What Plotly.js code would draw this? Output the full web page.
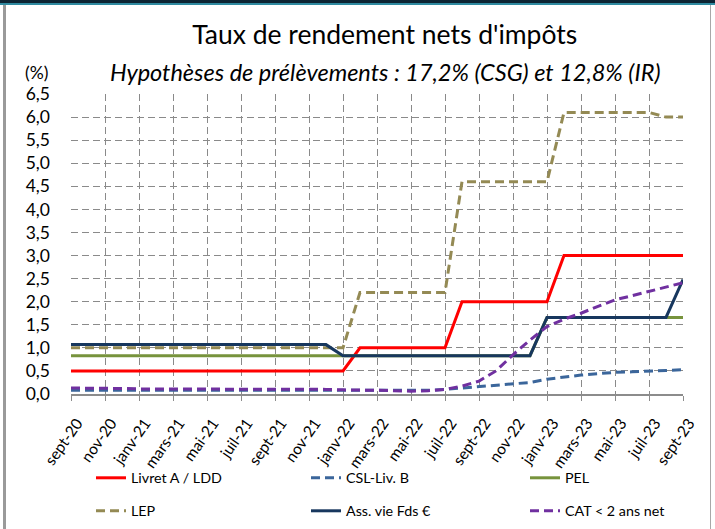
<!DOCTYPE html>
<html>
<head>
<meta charset="utf-8">
<script src="https://cdn.plot.ly/plotly-3.0.1.min.js"></script>
<style>
  html, body { margin: 0; padding: 0; background: #ffffff; }
  #wrap { position: relative; width: 715px; height: 529px; overflow: hidden; }
  #chart { width: 715px; height: 529px; }
  .bar { position: absolute; pointer-events: none; }
</style>
</head>
<body>
<div id="wrap">
  <div id="chart"></div>
  <div class="bar" style="left:0;top:0;width:715px;height:3px;background:#0d2433;"></div>
  <div class="bar" style="left:0;top:3px;width:715px;height:2px;background:#2f8aa0;"></div>
  <div class="bar" style="left:3px;top:5px;width:3px;height:524px;background:#9a9a9a;"></div>
  <div class="bar" style="left:710px;top:5px;width:1px;height:524px;background:#a8a8a8;"></div>
</div>
<script>
// Months, sept-20 to sept-23
const months = ["sept-20","oct-20","nov-20","déc-20",
  "janv-21","févr-21","mars-21","avr-21","mai-21","juin-21","juil-21","août-21","sept-21","oct-21","nov-21","déc-21",
  "janv-22","févr-22","mars-22","avr-22","mai-22","juin-22","juil-22","août-22","sept-22","oct-22","nov-22","déc-22",
  "janv-23","févr-23","mars-23","avr-23","mai-23","juin-23","juil-23","août-23","sept-23"];

const livretA = [0.5,0.5,0.5,0.5, 0.5,0.5,0.5,0.5,0.5,0.5,0.5,0.5,0.5,0.5,0.5,0.5,
  0.5,1.0,1.0,1.0,1.0,1.0,1.0,2.0,2.0,2.0,2.0,2.0,
  2.0,3.0,3.0,3.0,3.0,3.0,3.0,3.0,3.0];
const cslLivB = [0.08,0.08,0.08,0.08, 0.08,0.08,0.08,0.08,0.08,0.08,0.08,0.08,0.08,0.08,0.08,0.08,
  0.08,0.08,0.08,0.08,0.08,0.08,0.10,0.13,0.17,0.20,0.23,0.25,
  0.32,0.37,0.41,0.44,0.47,0.48,0.49,0.51,0.53];
const pel = [0.83,0.83,0.83,0.83, 0.83,0.83,0.83,0.83,0.83,0.83,0.83,0.83,0.83,0.83,0.83,0.83,
  0.83,0.83,0.83,0.83,0.83,0.83,0.83,0.83,0.83,0.83,0.83,0.83,
  1.66,1.66,1.66,1.66,1.66,1.66,1.66,1.66,1.66];
const lep = [1.0,1.0,1.0,1.0, 1.0,1.0,1.0,1.0,1.0,1.0,1.0,1.0,1.0,1.0,1.0,1.0,
  1.0,2.2,2.2,2.2,2.2,2.2,2.2,4.6,4.6,4.6,4.6,4.6,
  4.6,6.1,6.1,6.1,6.1,6.1,6.1,6.0,6.0];
const assVie = [1.07,1.07,1.07,1.07, 1.07,1.07,1.07,1.07,1.07,1.07,1.07,1.07,1.07,1.07,1.07,1.07,
  0.83,0.83,0.83,0.83,0.83,0.83,0.83,0.83,0.83,0.83,0.83,0.83,
  1.66,1.66,1.66,1.66,1.66,1.66,1.66,1.66,2.48];
const cat = [0.13,0.13,0.12,0.12, 0.11,0.11,0.10,0.10,0.10,0.10,0.10,0.10,0.10,0.10,0.10,0.10,
  0.09,0.09,0.08,0.07,0.06,0.07,0.10,0.17,0.28,0.50,0.85,1.17,
  1.46,1.62,1.75,1.90,2.04,2.13,2.22,2.32,2.41];

const seriesNames = ["Livret A / LDD","CSL-Liv. B","PEL","LEP","Ass. vie Fds €","CAT < 2 ans net"];

const FONT = "Lato, 'Open Sans', sans-serif";
const DASH = "9px,5px";

function tr(y, name, color, dash, legend) {
  return {
    type: "scatter", mode: "lines", x: months, y: y, name: name,
    line: {color: color, width: 3, dash: dash},
    legend: legend, hoverinfo: "skip"
  };
}

const data = [
  tr(livretA, seriesNames[0], "#ff0000", "solid", "legend"),
  tr(cslLivB, seriesNames[1], "#3b669b", DASH, "legend2"),
  tr(pel, seriesNames[2], "#77933c", "solid", "legend3"),
  tr(lep, seriesNames[3], "#948a54", DASH, "legend4"),
  tr(assVie, seriesNames[4], "#17375e", "solid", "legend5"),
  tr(cat, seriesNames[5], "#7030a0", DASH, "legend6")
];

function leg(px, py) {
  return {
    orientation: "h", xref: "container", yref: "container",
    x: px/715, y: 1 - py/529, xanchor: "left", yanchor: "middle",
    font: {family: FONT, size: 14.3, color: "#000"},
    bgcolor: "rgba(0,0,0,0)", borderwidth: 0
  };
}

const layout = {
  width: 715, height: 529,
  margin: {l: 71, r: 32, t: 94, b: 135},
  paper_bgcolor: "#ffffff", plot_bgcolor: "#ffffff",
  separators: ", ",
  font: {family: FONT, color: "#000"},
  title: {
    text: "Taux de rendement nets d'impôts",
    font: {family: FONT, size: 26.5, color: "#000"},
    xref: "container", x: 0.538, xanchor: "center",
    yref: "container", y: 1 - 35/529, yanchor: "middle"
  },
  xaxis: {
    type: "category", range: [0, 36], automargin: false,
    tickmode: "linear", tick0: 0, dtick: 2,
    tickangle: -55, ticklabelstandoff: 7, ticklabelshift: 6,
    tickfont: {family: FONT, size: 15.5, color: "#000"},
    showgrid: true, gridcolor: "#8a8a8a", gridwidth: 1, griddash: "7px,4px",
    showline: true, linecolor: "#8c8c8c", linewidth: 2,
    ticks: "outside", ticklen: 5, tickcolor: "#8c8c8c", tickwidth: 1,
    zeroline: false, fixedrange: true
  },
  yaxis: {
    range: [0, 6.5], tickmode: "linear", tick0: 0, dtick: 0.5,
    tickformat: ".1f", automargin: false,
    tickfont: {family: FONT, size: 17.5, color: "#000"},
    showgrid: true, gridcolor: "#8a8a8a", gridwidth: 1, griddash: "7px,4px",
    showline: false, zeroline: false, ticks: "", ticklabelstandoff: 20,
    fixedrange: true
  },
  legend: leg(91, 478),
  legend2: leg(306, 478),
  legend3: leg(525, 478),
  legend4: leg(91, 511),
  legend5: leg(306, 511),
  legend6: leg(525, 511),
  annotations: [
    {
      text: "<i>Hypothèses de prélèvements : 17,2% (CSG) et 12,8% (IR)</i>",
      xref: "paper", yref: "paper", x: (385-71)/612, y: (394-72)/300,
      xanchor: "center", yanchor: "middle", showarrow: false,
      font: {family: FONT, size: 23.5, color: "#000"}
    },
    {
      text: "(%)",
      xref: "paper", yref: "paper", x: (36-71)/612, y: (394-72)/300,
      xanchor: "center", yanchor: "middle", showarrow: false,
      font: {family: FONT, size: 17.5, color: "#000"}
    }
  ],
  showlegend: true
};

Plotly.newPlot("chart", data, layout, {displayModeBar: false, staticPlot: true});
</script>
</body>
</html>
